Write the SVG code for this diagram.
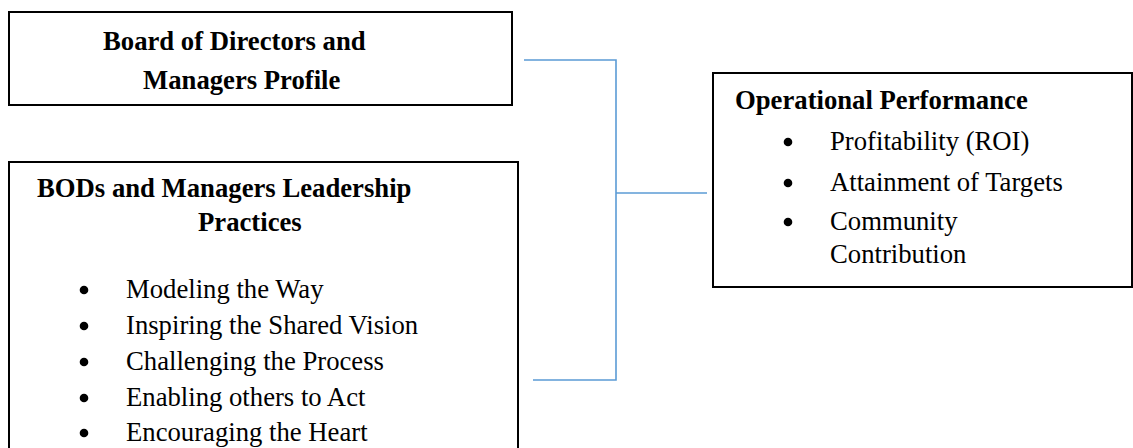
<svg xmlns="http://www.w3.org/2000/svg" width="1133" height="448" viewBox="0 0 1133 448">
<style>
.box{fill:#fff;stroke:#000;stroke-width:2}
.conn{fill:none;stroke:#5B9BD5;stroke-width:1.6}
.b{font-family:"Liberation Serif","Times New Roman",serif;font-weight:bold;font-size:26.7px;fill:#000}
.r{font-family:"Liberation Serif","Times New Roman",serif;font-size:26.7px;fill:#000}
.dot{fill:#000}
</style>
<rect x="0" y="0" width="1133" height="448" fill="#fff"/>
<g id="connectors">
<path class="conn" d="M524,60 H616 V380 H533"/>
<path class="conn" d="M616,193 H707"/>
</g>
<g id="node-profile">
<rect class="box" x="9" y="12" width="503" height="93"/>
<text class="b" x="103" y="50">Board of Directors and</text>
<text class="b" x="143" y="89">Managers Profile</text>
</g>
<g id="node-leadership">
<rect class="box" x="9" y="162" width="509" height="300"/>
<text class="b" x="37" y="197">BODs and Managers Leadership</text>
<text class="b" x="198" y="231">Practices</text>
<circle class="dot" cx="84" cy="290" r="4.3"/>
<text class="r" x="126" y="298">Modeling the Way</text>
<circle class="dot" cx="84" cy="326" r="4.3"/>
<text class="r" x="126" y="334">Inspiring the Shared Vision</text>
<circle class="dot" cx="84" cy="362" r="4.3"/>
<text class="r" x="126" y="370">Challenging the Process</text>
<circle class="dot" cx="84" cy="398" r="4.3"/>
<text class="r" x="126" y="406">Enabling others to Act</text>
<circle class="dot" cx="84" cy="433" r="4.3"/>
<text class="r" x="126" y="441">Encouraging the Heart</text>
</g>
<g id="node-performance">
<rect class="box" x="713" y="73" width="419" height="214"/>
<text class="b" x="735" y="109">Operational Performance</text>
<circle class="dot" cx="788" cy="142" r="4.3"/>
<text class="r" x="830" y="150">Profitability (ROI)</text>
<circle class="dot" cx="788" cy="183" r="4.3"/>
<text class="r" x="830" y="191">Attainment of Targets</text>
<circle class="dot" cx="788" cy="222" r="4.3"/>
<text class="r" x="830" y="230">Community</text>
<text class="r" x="830" y="263">Contribution</text>
</g>
</svg>
